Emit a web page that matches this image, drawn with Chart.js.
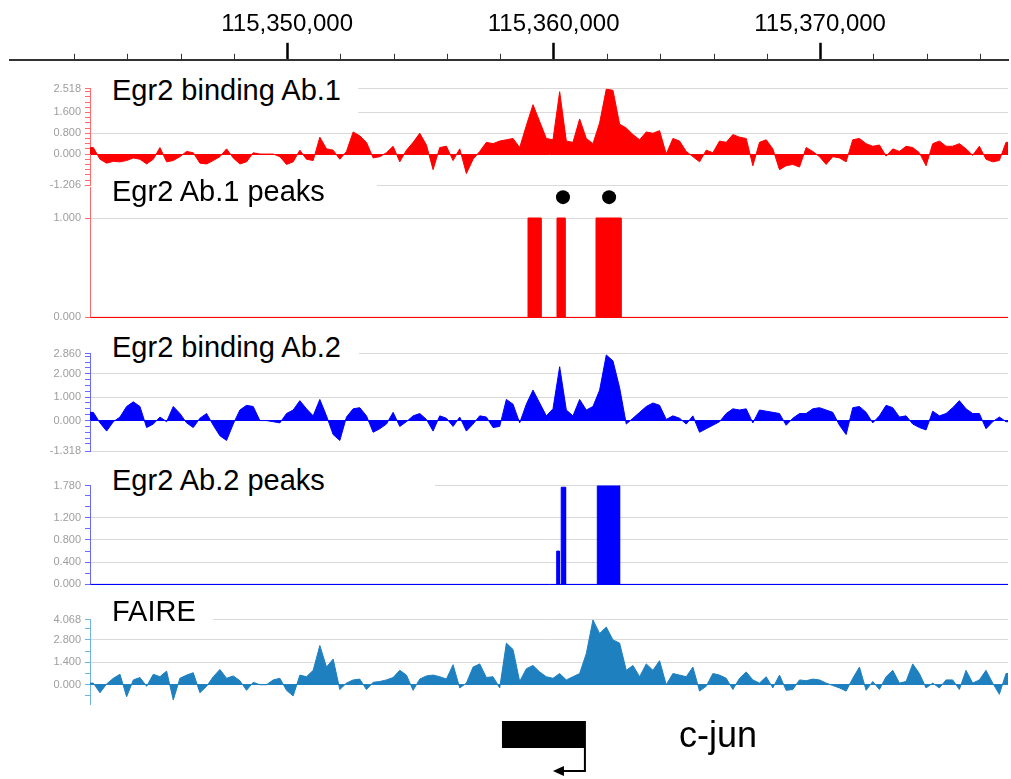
<!DOCTYPE html>
<html>
<head>
<meta charset="utf-8">
<script src="https://cdn.jsdelivr.net/npm/chart.js@4.4.1/dist/chart.umd.min.js"></script>
<style>
  body { margin: 0; background: #fff; }
  #page { position: relative; width: 1011px; height: 779px; overflow: hidden; background: #fff;
          font-family: "Liberation Sans", Arial, sans-serif; }
  canvas { position: absolute; left: 0; }
  .tlabel { position: absolute; left: 91px; background: #fff; z-index: 5; }
  .tlabel span { position: absolute; left: 21px; font-size: 29px; line-height: 32px; color: #000; white-space: nowrap; }
  #geneName { position: absolute; left: 679px; top: 715px; font-size: 36px; line-height: 40px; color: #000; }
</style>
</head>
<body>
<div id="page">
  <canvas id="ruler" width="1011" height="130" style="top:0px"></canvas>
  <canvas id="t1" width="1008" height="118" style="top:78px"></canvas>
  <canvas id="t2" width="1008" height="151" style="top:177px"></canvas>
  <canvas id="t3" width="1008" height="119" style="top:343px"></canvas>
  <canvas id="t4" width="1008" height="120" style="top:475px"></canvas>
  <canvas id="t5" width="1008" height="106" style="top:609px"></canvas>
  <canvas id="gene" width="1008" height="74" style="top:705px"></canvas>

  <div class="tlabel" style="top:74px;height:44px;width:267px"><span style="top:0px">Egr2 binding Ab.1</span></div>
  <div class="tlabel" style="top:176px;height:36px;width:286px"><span style="top:-1px">Egr2 Ab.1 peaks</span></div>
  <div class="tlabel" style="top:331px;height:35px;width:268px"><span style="top:0px">Egr2 binding Ab.2</span></div>
  <div class="tlabel" style="top:462px;height:38px;width:344px"><span style="top:2px">Egr2 Ab.2 peaks</span></div>
  <div class="tlabel" style="top:597px;height:33px;width:122px"><span style="top:-2px">FAIRE</span></div>
  <div id="geneName">c-jun</div>
</div>

<script>
// -- genomic window (bp) --
const viewStart = 115342600;
const viewEnd = 115377050;
const rulerStart = 115339600;

// -- ruler labels and small ticks --
const rulerLabels = [115350000, 115360000, 115370000];
const rulerMinor = [115342000, 115344000, 115346000, 115348000,
                    115352000, 115354000, 115356000, 115358000,
                    115362000, 115364000, 115366000, 115368000,
                    115372000, 115374000, 115376000];

// -- signal tracks, fixedStep wiggle : start / step / values --
const binStart = 115342600;
const binSize = 250;

const ab1Signal = [
  0.25, -0.2, -0.35, -0.28, -0.3, -0.25, -0.15, -0.2, -0.38, -0.2,
  0.25, -0.3, -0.25, -0.1, 0.1, 0.05, -0.35, -0.38, -0.25, -0.1,
  0.2, -0.15, -0.38, -0.3, 0.05, 0, 0, 0, -0.1, -0.4,
  -0.3, 0.15, -0.2, -0.25, 0.65, 0.2, 0.15, -0.2, 0.1, 0.85,
  0.7, 0.45, -0.15, -0.1, 0.05, 0.3, -0.3, 0.15, 0.45, 0.8,
  0.35, -0.6, 0.25, 0.3, -0.25, 0.2, -0.75, -0.2, 0.1, 0.45,
  0.4, 0.5, 0.55, 0.6, 0.25, 1.1, 1.9, 1.25, 0.6, 0.55,
  2.4, 0.5, 0.45, 1.35, 0.6, 0.4, 1.2, 2.5, 2.45, 1.15,
  1.0, 0.75, 0.55, 0.85, 0.8, 0.9, 0, 0.6, 0.5, 0.1,
  -0.1, -0.3, 0.15, 0.05, 0.5, 0.45, 0.75, 0.65, 0.6, -0.45,
  0.45, 0.55, 0.2, -0.6, -0.45, -0.4, -0.5, 0.25, 0.1, -0.1,
  -0.4, -0.1, -0.15, -0.3, 0.55, 0.6, 0.4, 0.3, 0.35, -0.08,
  0.2, 0.1, 0.3, 0.25, 0.05, -0.45, 0.4, 0.5, 0.3, 0.3,
  0.4, 0.2, -0.05, 0.3, -0.2, -0.3, -0.25, 0.45
];

const ab2Signal = [
  0.35, -0.1, -0.45, -0.05, 0.15, 0.6, 0.8, 0.6, -0.3, -0.15,
  0.15, -0.05, 0.6, 0.3, -0.1, -0.3, 0.1, 0.3, -0.2, -0.65,
  -0.85, -0.15, 0.45, 0.65, 0.6, 0, 0, -0.05, -0.1, 0.3,
  0.45, 0.85, 0.5, 0.2, 0.9, 0.2, -0.6, -0.85, 0.15, 0.5,
  0.55, 0.2, -0.5, -0.35, -0.15, 0.35, -0.25, -0.05, 0.2, 0.3,
  0.05, -0.45, 0.2, 0.1, -0.25, 0.15, -0.45, -0.15, 0.2, 0.15,
  -0.3, -0.25, 0.9, 0.7, -0.1, 0.7, 1.3, 0.75, 0.2, 0.5,
  2.3, 0.45, 0.2, 0.9, 0.45, 0.6, 1.3, 2.8, 2.55, 1.4,
  -0.15, 0.1, 0.35, 0.6, 0.75, 0.65, 0.05, 0.2, 0.1, -0.15,
  0.2, -0.5, -0.35, -0.2, -0.05, 0.3, 0.5, 0.45, 0.5, -0.1,
  0.45, 0.4, 0.35, 0.3, -0.2, 0.1, 0.3, 0.3, 0.5, 0.55,
  0.45, 0.35, -0.2, -0.6, 0.55, 0.6, 0.35, -0.1, 0.2, 0.65,
  0.55, 0.15, 0.2, -0.15, -0.3, -0.4, 0.4, 0.2, 0.3, 0.55,
  0.85, 0.5, 0.3, 0.3, -0.35, -0.05, 0.15, -0.05
];

const faireSignal = [
  0.1, -0.5, 0.05, 0.4, 0.65, -0.75, 0.3, 0.45, -0.1, 0.65,
  0.5, 0.85, -0.95, 0.4, 0.6, 0.75, -0.5, -0.1, 0.5, 0.95,
  0.4, 0.55, 0.25, -0.35, 0.15, 0, 0, 0.3, 0.4, -0.35,
  -0.7, 0.6, 0.5, 0.9, 2.45, 1.1, 1.6, -0.3, 0.1, 0.3,
  0.35, -0.3, 0.15, 0.2, 0.3, 0.45, 0.9, 0.6, -0.35, 0.35,
  0.55, 0.6, 0.5, 0.35, 1.25, -0.2, 0.1, 1.1, 1.3, 0.45,
  0.5, -0.2, 2.6, 2.2, 0.2, 1.0, 1.2, 0.8, 0.5, 0.4,
  0.7, 0.3, 0.5, 0.7, 1.95, 4.05, 3.2, 3.6, 2.8, 2.6,
  0.9, 1.2, 0.5, 1.3, 0.9, 1.5, 0, 0.7, 0.6, 0.5,
  1.1, -0.4, -0.1, 0.7, 0.6, 0.4, -0.3, 0.4, 0.8, 0.3,
  0.1, 0.5, -0.2, 0.6, -0.35, -0.3, 0.3, 0.25, 0.35, 0.3,
  0.1, -0.05, -0.2, -0.4, 0.4, 1.1, -0.35, 0.2, -0.3, 0.5,
  0.9, 0.1, 0.2, 1.3, 0.7, -0.2, 0.1, -0.2, 0.3, 0.3,
  -0.3, 0.9, 0.1, 0.3, 0.9, 0.1, -0.6, 0.7
];

// -- called peaks (bed intervals) --
const ab1PeakStarts = [115359037, 115360125, 115361589];
const ab1PeakEnds = [115359525, 115360426, 115362527];
const ab1PeakScores = [1, 1, 1];
const ab1DotPositions = [115360350, 115362080];
const ab1DotLevel = 1.21;

const ab2PeakStarts = [115360114, 115360283, 115361638];
const ab2PeakEnds = [115360216, 115360448, 115362475];
const ab2PeakScores = [0.6, 1.75, 1.78];

// -- gene model --
const geneName = 'c-jun';
const geneStart = 115358060;
const geneEnd = 115361210;

// -- y ticks per track --
const ab1Ticks = [-1.206, -1.0, -0.8, -0.6, -0.4, -0.2, 0, 0.2, 0.4, 0.6, 0.8, 1.0, 1.2, 1.4, 1.6, 1.8, 2.0, 2.2, 2.4, 2.518];
const ab1Labels = [-1.206, 0, 0.8, 1.6, 2.518];
const ab1PeakTicks = [0, 1];
const ab2Ticks = [-1.318, -1.0, -0.75, -0.5, -0.25, 0, 0.25, 0.5, 0.75, 1.0, 1.25, 1.5, 1.75, 2.0, 2.25, 2.5, 2.75, 2.86];
const ab2Labels = [-1.318, 0, 1, 2, 2.86];
const ab2PeakTicks = [0, 0.2, 0.4, 0.6, 0.8, 1.0, 1.2, 1.4, 1.6, 1.78];
const ab2PeakLabels = [0, 0.4, 0.8, 1.2, 1.78];
const faireTicks = [-0.7, 0, 0.7, 1.4, 2.1, 2.8, 3.5, 4.068];
const faireLabels = [0, 1.4, 2.8, 4.068];

const fontFamily = '"Liberation Sans", Arial, sans-serif';

// --> fixedStep values into {x,y} points (bin centres, held to the window edges) <--
function fixedStep(values)
{
    let pts = [{ x: viewStart, y: values[0] }];
    values.forEach((v, i) => pts.push({ x: binStart + (i + 0.5) * binSize, y: v }));
    pts.push({ x: viewEnd, y: values[values.length - 1] });
    return pts;
}

// --> bed intervals into closed boxes on the baseline <--
function peakBoxes(starts, ends, heights)
{
    let pts = [{ x: viewStart, y: 0 }];
    for (let i = 0; i < starts.length; i++)
    {
        pts.push({ x: starts[i], y: 0 }, { x: starts[i], y: heights[i] },
                 { x: ends[i], y: heights[i] }, { x: ends[i], y: 0 });
    }
    pts.push({ x: viewEnd, y: 0 });
    return pts;
}

function signalSet(values, color)
{
    return { data: fixedStep(values), fill: 'origin', tension: 0,
             borderColor: color, backgroundColor: color, borderWidth: 1, pointRadius: 0 };
}

function peakSet(starts, ends, heights, color)
{
    return { data: peakBoxes(starts, ends, heights), fill: 'origin', tension: 0,
             borderColor: color, backgroundColor: color, borderWidth: 1, pointRadius: 0 };
}

// --> one browser track = one chart <--
function makeTrack(id, cfg)
{
    const ctx = document.getElementById(id).getContext('2d');
    return new Chart(ctx, {
        type: 'line',
        data: { datasets: cfg.datasets },
        options: {
            animation: false,
            responsive: false,
            layout: { autoPadding: false, padding: { top: 10, bottom: 10, left: 0, right: 0 } },
            plugins: { legend: { display: false }, tooltip: { enabled: false } },
            scales: {
                x: { type: 'linear', display: false, min: viewStart, max: viewEnd },
                y: {
                    min: cfg.min,
                    max: cfg.max,
                    afterBuildTicks: s => { s.ticks = cfg.ticks.map(v => ({ value: v })); },
                    afterFit: s => { s.width = 90; },
                    ticks: {
                        autoSkip: false,
                        padding: 4,
                        color: '#9d9d9d',
                        font: { family: fontFamily, size: 11 },
                        callback: v => cfg.labels.includes(v) ? v.toFixed(3) : ''
                    },
                    grid: {
                        drawTicks: true,
                        tickLength: 5,
                        tickColor: cfg.axisColor,
                        color: c => c.tick.value === 0 ? cfg.color
                                  : (cfg.labels.includes(c.tick.value) ? '#dadada' : 'rgba(0,0,0,0)')
                    },
                    border: { color: cfg.axisColor, width: 1 }
                }
            }
        }
    });
}

// -- ruler on top --
const rulerMinorTicks = {
    id: 'rulerMinorTicks',
    afterDraw(chart) {
        const sc = chart.scales.x;
        const c = chart.ctx;
        c.save();
        c.strokeStyle = '#333';
        c.lineWidth = 1;
        for (let v of rulerMinor)
        {
            const px = Math.round(sc.getPixelForValue(v)) + 0.5;
            c.beginPath();
            c.moveTo(px, sc.bottom - 6);
            c.lineTo(px, sc.bottom);
            c.stroke();
        }
        c.restore();
    }
};

new Chart(document.getElementById('ruler').getContext('2d'), {
    type: 'line',
    data: { datasets: [] },
    options: {
        animation: false,
        responsive: false,
        layout: { autoPadding: false, padding: { top: 6, left: 10, right: 3, bottom: 0 } },
        plugins: { legend: { display: false }, tooltip: { enabled: false } },
        scales: {
            x: {
                type: 'linear',
                position: 'top',
                min: rulerStart,
                max: viewEnd,
                afterBuildTicks: s => { s.ticks = rulerLabels.map(v => ({ value: v })); },
                ticks: {
                    autoSkip: false,
                    maxRotation: 0,
                    padding: 4,
                    color: '#000',
                    font: { family: fontFamily, size: 24 },
                    callback: v => v.toLocaleString('en-US')
                },
                grid: { drawOnChartArea: false, drawTicks: true, tickLength: 17, tickWidth: 2.5, tickColor: '#000' },
                border: { color: '#333', width: 2 }
            },
            y: { display: false }
        }
    },
    plugins: [rulerMinorTicks]
});

// -- tracks --
makeTrack('t1', {
    datasets: [signalSet(ab1Signal, '#ff0000')],
    min: -1.206, max: 2.518, ticks: ab1Ticks, labels: ab1Labels,
    color: '#ff0000', axisColor: '#ff6a6a'
});

makeTrack('t2', {
    datasets: [
        peakSet(ab1PeakStarts, ab1PeakEnds, ab1PeakScores, '#ff0000'),
        { data: ab1DotPositions.map(p => ({ x: p, y: ab1DotLevel })), showLine: false,
          pointRadius: 7, pointBackgroundColor: '#000', pointBorderColor: '#000', pointBorderWidth: 0 }
    ],
    min: 0, max: 1.306, ticks: ab1PeakTicks, labels: ab1PeakTicks,
    color: '#ff0000', axisColor: '#ff6a6a'
});

makeTrack('t3', {
    datasets: [signalSet(ab2Signal, '#0000ff')],
    min: -1.318, max: 2.86, ticks: ab2Ticks, labels: ab2Labels,
    color: '#0000ff', axisColor: '#6a6aff'
});

makeTrack('t4', {
    datasets: [peakSet(ab2PeakStarts, ab2PeakEnds, ab2PeakScores, '#0000ff')],
    min: 0, max: 1.78, ticks: ab2PeakTicks, labels: ab2PeakLabels,
    color: '#0000ff', axisColor: '#6a6aff'
});

makeTrack('t5', {
    datasets: [signalSet(faireSignal, '#1f80c0')],
    min: -1.23, max: 4.068, ticks: faireTicks, labels: faireLabels,
    color: '#1f80c0', axisColor: '#6cb4e4'
});

// -- gene model: block + TSS arrow (minus strand) --
const geneGlyph = {
    id: 'geneGlyph',
    afterDraw(chart) {
        const sc = chart.scales.x;
        const c = chart.ctx;
        const x1 = sc.getPixelForValue(geneStart);
        const x2 = sc.getPixelForValue(geneEnd);
        const tip = x2 - 33;
        c.save();
        c.fillStyle = '#000';
        c.fillRect(x1, 16, x2 - x1, 27);
        c.strokeStyle = '#000';
        c.lineWidth = 2;
        c.beginPath();
        c.moveTo(x2 - 1, 43);
        c.lineTo(x2 - 1, 66);
        c.lineTo(tip + 6, 66);
        c.stroke();
        c.beginPath();
        c.moveTo(tip, 66);
        c.lineTo(tip + 11, 61);
        c.lineTo(tip + 11, 71);
        c.closePath();
        c.fill();
        c.restore();
    }
};

new Chart(document.getElementById('gene').getContext('2d'), {
    type: 'line',
    data: { datasets: [] },
    options: {
        animation: false,
        responsive: false,
        layout: { autoPadding: false, padding: { left: 90, right: 0, top: 0, bottom: 0 } },
        plugins: { legend: { display: false }, tooltip: { enabled: false } },
        scales: {
            x: { type: 'linear', display: false, min: viewStart, max: viewEnd },
            y: { display: false }
        }
    },
    plugins: [geneGlyph]
});

document.getElementById('geneName').textContent = geneName;
</script>
</body>
</html>
